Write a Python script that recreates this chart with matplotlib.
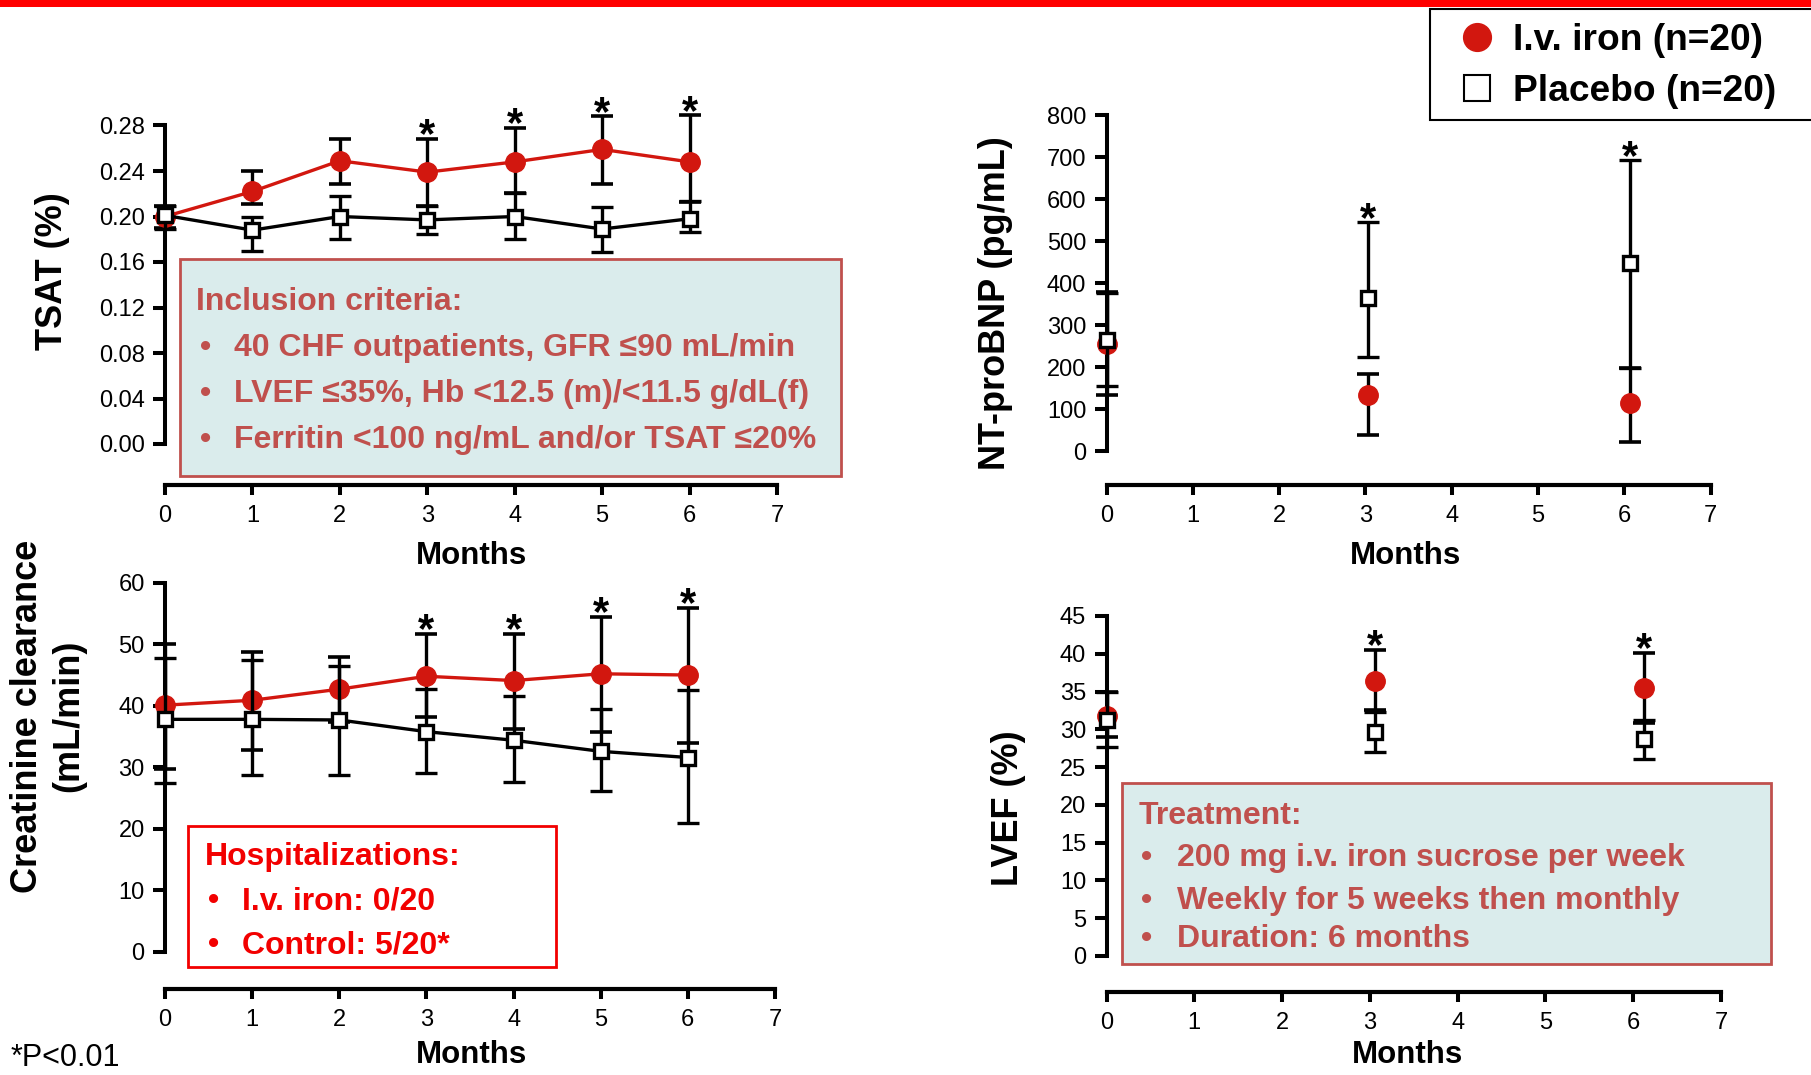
import matplotlib.pyplot as plt
import numpy as np
from matplotlib.patches import Rectangle
from matplotlib.lines import Line2D

# ---- data ----
months = [0, 1, 2, 3, 4, 5, 6]

tsat_iron = [0.200, 0.222, 0.249, 0.239, 0.248, 0.259, 0.248]
tsat_iron_lo = [0.190, 0.211, 0.229, 0.209, 0.221, 0.229, 0.213]
tsat_iron_hi = [0.209, 0.240, 0.268, 0.268, 0.278, 0.288, 0.289]
tsat_pbo = [0.201, 0.188, 0.200, 0.197, 0.200, 0.189, 0.198]
tsat_pbo_lo = [0.189, 0.170, 0.180, 0.185, 0.180, 0.169, 0.186]
tsat_pbo_hi = [0.209, 0.200, 0.218, 0.209, 0.221, 0.208, 0.214]

cr_iron = [40.1, 40.9, 42.7, 44.8, 44.1, 45.2, 45.0]
cr_iron_lo = [29.8, 32.9, 37.4, 38.2, 36.2, 35.8, 34.0]
cr_iron_hi = [50.1, 48.7, 48.0, 51.7, 51.7, 54.5, 55.9]
cr_pbo = [37.8, 37.8, 37.7, 35.8, 34.4, 32.6, 31.6]
cr_pbo_lo = [27.5, 28.8, 28.8, 29.1, 27.7, 26.1, 21.0]
cr_pbo_hi = [47.8, 47.5, 46.5, 42.7, 41.6, 39.4, 42.6]

nt_months = [0, 3.03, 6.07]
nt_iron = [255, 133, 115]
nt_iron_lo = [133, 39, 22]
nt_iron_hi = [378, 184, 197]
nt_pbo = [265, 364, 448]
nt_pbo_lo = [155, 225, 197]
nt_pbo_hi = [376, 545, 693]

lv_months = [0, 3.06, 6.12]
lv_iron = [31.8, 36.4, 35.5]
lv_iron_lo = [29.0, 32.5, 30.8]
lv_iron_hi = [35.0, 40.5, 40.1]
lv_pbo = [31.3, 29.6, 28.7]
lv_pbo_lo = [27.6, 27.0, 26.1]
lv_pbo_hi = [34.9, 32.3, 31.3]

tsat_star = [3, 4, 5, 6]
cr_star = [3, 4, 5, 6]
nt_star = [1, 2]
lv_star = [1, 2]

inclusion_lines = ['40 CHF outpatients, GFR \u226490 mL/min',
                   'LVEF \u226435%, Hb <12.5 (m)/<11.5 g/dL(f)',
                   'Ferritin <100 ng/mL and/or TSAT \u226420%']
hosp_lines = ['I.v. iron: 0/20', 'Control: 5/20*']
treat_lines = ['200 mg i.v. iron sucrose per week',
               'Weekly for 5 weeks then monthly',
               'Duration: 6 months']

IRON = '#D2170F'
BOXRED = '#C0504D'
BOXFILL = '#DAECEC'
HOSPRED = '#F20000'

W, H = 1811, 1075
plt.rcParams['font.family'] = ['Liberation Sans', 'DejaVu Sans']

fig = plt.figure(figsize=(W / 100, H / 100), dpi=100)


def fx(px):
    return px / W


def fy(py):
    return 1 - py / H


def make_ax(x0px, x7px, y0px, v0, y1px, v1, bot_px, top_px, ticks, fmt):
    ax = fig.add_axes([fx(x0px), fy(bot_px), (x7px - x0px) / W, (bot_px - top_px) / H])
    per_px = (v1 - v0) / (y0px - y1px)
    ax.set_xlim(0, 7)
    ax.set_ylim(v0 - (bot_px - y0px) * per_px, v0 + (y0px - top_px) * per_px)
    for s in ['top', 'right']:
        ax.spines[s].set_visible(False)
    ax.spines['left'].set_bounds(ticks[0], ticks[-1])
    ax.spines['bottom'].set_bounds(0, 7)
    ax.spines['left'].set_linewidth(2.9)
    ax.spines['bottom'].set_linewidth(3.0)
    ax.set_yticks(ticks)
    ax.set_yticklabels([fmt.format(t) for t in ticks])
    ax.set_xticks(range(8))
    ax.tick_params(axis='y', direction='out', length=8.6, width=2.9, labelsize=17, pad=6)
    ax.tick_params(axis='x', direction='out', length=7.5, width=2.9, labelsize=17, pad=7)
    ax.patch.set_alpha(0)
    return ax


def plot_pair(ax, x, iron, ilo, ihi, pbo, plo, phi, line):
    iron = np.array(iron)
    pbo = np.array(pbo)
    ls = '-' if line else 'none'
    ax.errorbar(x, iron, yerr=[iron - np.array(ilo), np.array(ihi) - iron], fmt='o', ls=ls,
                color=IRON, ms=14, mec=IRON, lw=2.4, ecolor='black', elinewidth=2.4,
                capsize=8, capthick=2.6, clip_on=False, zorder=3)
    ax.errorbar(x, pbo, yerr=[pbo - np.array(plo), np.array(phi) - pbo], fmt='s', ls=ls,
                color='black', ms=10.5, mfc='white', mec='black', mew=2.4, lw=2.4,
                ecolor='black', elinewidth=2.4, capsize=8, capthick=2.6, clip_on=False, zorder=4)


def stars(ax, x, ihi, phi, idx):
    for i in idx:
        top = max(ihi[i], phi[i])
        ax.annotate('*', (x[i], top), xytext=(0, -6), textcoords='offset points',
                    ha='center', va='baseline', fontsize=30, fontweight='bold')


# TSAT
ax1 = make_ax(165, 777, 444, 0.0, 125.5, 0.28, 485, 90, np.arange(0, 0.281, 0.04), '{:.2f}')
plot_pair(ax1, months, tsat_iron, tsat_iron_lo, tsat_iron_hi, tsat_pbo, tsat_pbo_lo, tsat_pbo_hi, True)
stars(ax1, months, tsat_iron_hi, tsat_pbo_hi, tsat_star)

# NT-proBNP
ax2 = make_ax(1106.5, 1710.5, 451, 0, 115.5, 800, 485, 90, np.arange(0, 801, 100), '{:.0f}')
plot_pair(ax2, nt_months, nt_iron, nt_iron_lo, nt_iron_hi, nt_pbo, nt_pbo_lo, nt_pbo_hi, False)
stars(ax2, nt_months, nt_iron_hi, nt_pbo_hi, nt_star)

# Creatinine clearance
ax3 = make_ax(165, 775, 952, 0, 582.7, 60, 989, 560, np.arange(0, 61, 10), '{:.0f}')
plot_pair(ax3, months, cr_iron, cr_iron_lo, cr_iron_hi, cr_pbo, cr_pbo_lo, cr_pbo_hi, True)
stars(ax3, months, cr_iron_hi, cr_pbo_hi, cr_star)

# LVEF
ax4 = make_ax(1106.5, 1721, 956, 0, 616, 45, 992, 590, np.arange(0, 46, 5), '{:.0f}')
plot_pair(ax4, lv_months, lv_iron, lv_iron_lo, lv_iron_hi, lv_pbo, lv_pbo_lo, lv_pbo_hi, False)
stars(ax4, lv_months, lv_iron_hi, lv_pbo_hi, lv_star)

# axis titles
lab = dict(fontsize=26, fontweight='bold', rotation=90, ha='center', va='center')
fig.text(fx(52), fy(271), 'TSAT (%)', **lab)
fig.text(fx(996), fy(303), 'NT-proBNP (pg/mL)', **lab)
fig.text(fx(48), fy(716), 'Creatinine clearance\n(mL/min)', linespacing=1.25, **lab)
fig.text(fx(1008), fy(808), 'LVEF (%)', **lab)
mon = dict(fontsize=22.5, fontweight='bold', ha='center', va='center')
fig.text(fx(471), fy(556), 'Months', **mon)
fig.text(fx(1405), fy(556), 'Months', **mon)
fig.text(fx(471), fy(1055), 'Months', **mon)
fig.text(fx(1407), fy(1055), 'Months', **mon)
fig.text(fx(11), fy(1058), '*P<0.01', fontsize=22, ha='left', va='center')


def text_box(x0, y0, x1, y1, fill, edge, lw, color, title, title_y, lines, line_ys, tx, bx, lx):
    fig.add_artist(Rectangle((fx(x0), fy(y1)), (x1 - x0) / W, (y1 - y0) / H,
                             transform=fig.transFigure, facecolor=fill, edgecolor=edge,
                             lw=lw, zorder=5))
    kw = dict(fontsize=23, fontweight='bold', color=color, va='center', ha='left', zorder=6)
    fig.text(fx(tx), fy(title_y), title, **kw)
    for t, y in zip(lines, line_ys):
        fig.text(fx(bx), fy(y), '\u2022', **kw)
        fig.text(fx(lx), fy(y), t, **kw)


text_box(180, 259, 841, 476, BOXFILL, BOXRED, 2.0, BOXRED, 'Inclusion criteria:', 302,
         inclusion_lines, [348, 394, 440], 196, 200, 234)
text_box(188, 826, 556, 967, 'white', HOSPRED, 2.0, HOSPRED, 'Hospitalizations:', 857,
         hosp_lines, [901, 945], 205, 208, 242)
text_box(1122, 783, 1771, 964, BOXFILL, BOXRED, 2.0, BOXRED, 'Treatment:', 816,
         treat_lines, [858, 901, 939], 1139, 1141, 1177)

# legend: frame runs off the right edge, as in the original slide
fig.add_artist(Rectangle((fx(1430), fy(120)), 420 / W, 111 / H, transform=fig.transFigure,
                         facecolor='white', edgecolor='black', lw=1.5))
handles = [Line2D([], [], marker='o', ls='none', color=IRON, ms=20),
           Line2D([], [], marker='s', ls='none', mfc='white', mec='black', mew=1.5, ms=19)]
leg = fig.legend(handles, ['I.v. iron (n=20)', 'Placebo (n=20)'], loc='upper left',
                 bbox_to_anchor=(fx(1430), fy(16)), borderaxespad=0, frameon=False,
                 prop=dict(weight='bold', size=26.7), handlelength=2.16, handletextpad=-0.12,
                 borderpad=0.2, labelspacing=0.43)

# red band on top
fig.add_artist(Rectangle((0, fy(7)), 1, 7 / H, transform=fig.transFigure,
                         facecolor='#FF0000', edgecolor='none'))

fig.savefig('out.png', dpi=100)
